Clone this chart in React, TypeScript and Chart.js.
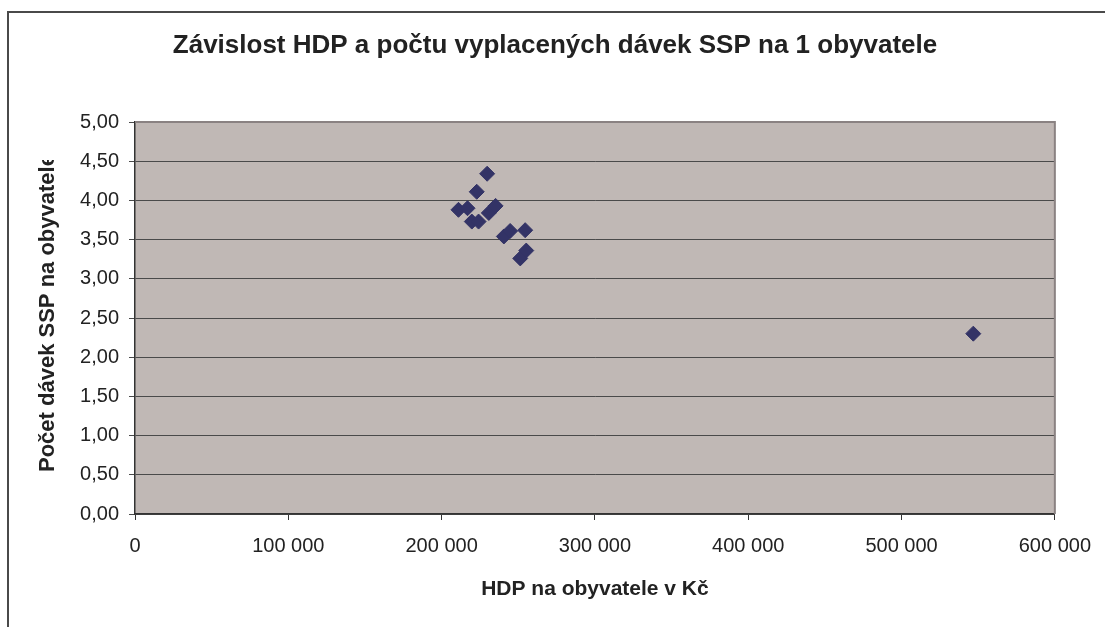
import React, { useEffect, useRef } from "react";
import { Chart, registerables } from "chart.js";

Chart.register(...registerables);

const chartTitle = "Závislost HDP a počtu vyplacených dávek SSP na 1 obyvatele";
const xAxisTitle = "HDP na obyvatele v Kč";
const yAxisTitle = "Počet dávek SSP na obyvatele";

// HDP na obyvatele (Kč) per kraj
const hdpPerCapita = [229700, 222900, 211000, 216900, 230800, 235200, 219700, 224100, 240600, 244700, 254500, 251300, 255200, 546800];
// Počet dávek SSP na obyvatele
const benefitsPerCapita = [4.34, 4.11, 3.88, 3.9, 3.84, 3.93, 3.73, 3.73, 3.54, 3.61, 3.62, 3.26, 3.36, 2.3];

const xTicks = [0, 100000, 200000, 300000, 400000, 500000, 600000];
const yTicks = [0, 0.5, 1, 1.5, 2, 2.5, 3, 3.5, 4, 4.5, 5];

const FONT = "'Liberation Sans', Arial, sans-serif";

const fmtX = (v: number) => String(Math.round(v)).replace(/\B(?=(\d{3})+(?!\d))/g, " ");
const fmtY = (v: number) => v.toFixed(2).replace(".", ",");

const decorPlugin = {
  id: "decor",
  beforeDraw(chart: any) {
    const { ctx, chartArea: a } = chart;
    ctx.save();
    ctx.fillStyle = "#ffffff";
    ctx.fillRect(0, 0, chart.width, chart.height);
    // outer frame
    ctx.strokeStyle = "#4a4a4a";
    ctx.lineWidth = 2;
    ctx.beginPath();
    ctx.moveTo(8, chart.height + 5);
    ctx.lineTo(8, 12);
    ctx.lineTo(chart.width + 5, 12);
    ctx.stroke();
    // plot background
    ctx.fillStyle = "#c0b8b5";
    ctx.fillRect(a.left, a.top, a.right - a.left, a.bottom - a.top);
    ctx.restore();
  },
  afterDraw(chart: any) {
    const { ctx, chartArea: a } = chart;
    ctx.save();
    // top/right plot border
    ctx.strokeStyle = "#8a8282";
    ctx.lineWidth = 2;
    ctx.beginPath();
    ctx.moveTo(a.left, a.top);
    ctx.lineTo(a.right, a.top);
    ctx.lineTo(a.right, a.bottom);
    ctx.stroke();

    ctx.fillStyle = "#222222";
    ctx.textAlign = "center";
    ctx.textBaseline = "middle";
    ctx.font = `bold 26px ${FONT}`;
    ctx.fillText(chartTitle, 555, 46);

    ctx.font = `bold 21px ${FONT}`;
    ctx.fillText(xAxisTitle, (a.left + a.right) / 2, 589);

    // y title, clipped at top like the original
    ctx.save();
    ctx.beginPath();
    ctx.rect(0, 160, 135, 400);
    ctx.clip();
    ctx.translate(48, 472);
    ctx.rotate(-Math.PI / 2);
    ctx.textAlign = "left";
    ctx.font = `bold 22px ${FONT}`;
    ctx.fillText(yAxisTitle, 0, 0);
    ctx.restore();
    ctx.restore();
  },
};

export default function App() {
  const ref = useRef<HTMLCanvasElement | null>(null);
  useEffect(() => {
    if (!ref.current) return;
    const chart = new Chart(ref.current, {
      type: "scatter",
      data: {
        datasets: [
          {
            label: "Kraje",
            data: hdpPerCapita.map((x, i) => ({ x, y: benefitsPerCapita[i] })),
            pointStyle: "rectRot",
            pointRadius: 7.5,
            pointBorderWidth: 1,
            backgroundColor: "#333366",
            borderColor: "#333366",
          },
        ],
      },
      options: {
        responsive: false,
        animation: false,
        layout: { padding: { top: 122, right: 50, left: 0, bottom: 0 } },
        plugins: {
          legend: { display: false },
          title: { display: false },
          tooltip: { enabled: false },
        },
        scales: {
          x: {
            type: "linear",
            min: 0,
            max: 600000,
            afterFit: (s: any) => {
              s.height = 113;
            },
            afterBuildTicks: (s: any) => {
              s.ticks = xTicks.map((v) => ({ value: v }));
            },
            ticks: {
              callback: (v: any) => fmtX(Number(v)),
              color: "#222222",
              font: { family: FONT, size: 20 },
              padding: 14,
              maxRotation: 0,
            },
            grid: {
              drawOnChartArea: false,
              drawTicks: true,
              tickLength: 6,
              color: "#333333",
            },
            border: { color: "#333333", width: 1.5 },
          },
          y: {
            type: "linear",
            min: 0,
            max: 5,
            afterFit: (s: any) => {
              s.width = 135;
            },
            afterBuildTicks: (s: any) => {
              s.ticks = yTicks.map((v) => ({ value: v }));
            },
            ticks: {
              callback: (v: any) => fmtY(Number(v)),
              color: "#222222",
              font: { family: FONT, size: 20 },
              padding: 10,
            },
            grid: {
              color: "#4a4a4a",
              tickLength: 6,
            },
            border: { color: "#333333", width: 1.5 },
          },
        },
      },
      plugins: [decorPlugin],
    });
    return () => chart.destroy();
  }, []);
  return (
    <div style={{ position: "fixed", left: 0, top: 0, width: 1105, height: 627 }}>
      <canvas ref={ref} width={1105} height={627} />
    </div>
  );
}
